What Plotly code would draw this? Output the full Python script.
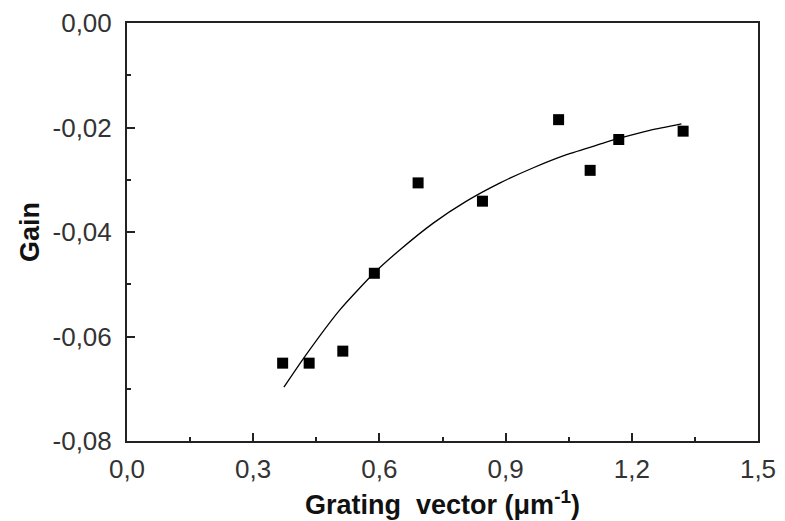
import plotly.graph_objects as go

# Measured data points
grating_vector = [0.370, 0.433, 0.513, 0.588, 0.692, 0.845, 1.026, 1.101, 1.169, 1.322]
gain = [-0.0651, -0.0651, -0.0628, -0.0479, -0.0306, -0.0341, -0.0185, -0.0282, -0.0223, -0.0207]

# Fit curve
fit_x = [0.373, 0.423, 0.506, 0.588, 0.649, 0.728, 0.807, 0.887, 0.966, 1.045, 1.124, 1.169, 1.245, 1.318]
fit_y = [-0.0697, -0.0638, -0.0549, -0.0478, -0.0434, -0.0383, -0.0341, -0.0306, -0.0277, -0.0252, -0.0232, -0.0221, -0.0205, -0.0193]

# Ticks
x_tickvals = [0.0, 0.3, 0.6, 0.9, 1.2, 1.5]
x_ticktext = ["0,0", "0,3", "0,6", "0,9", "1,2", "1,5"]
y_tickvals = [0.0, -0.02, -0.04, -0.06, -0.08]
y_ticktext = ["0,00", "-0,02", "-0,04", "-0,06", "-0,08"]

fig = go.Figure()
fig.add_trace(go.Scatter(x=fit_x, y=fit_y, mode="lines",
                         line=dict(color="black", width=1.3, shape="spline", smoothing=0.6),
                         showlegend=False, hoverinfo="skip"))
fig.add_trace(go.Scatter(x=grating_vector, y=gain, mode="markers",
                         marker=dict(symbol="square", size=11, color="black"),
                         showlegend=False))

font_family = "Liberation Sans, Arial, sans-serif"
# page body has an 8px margin, so the figure is 8px smaller than the window
fig.update_layout(
    width=777, height=513,
    margin=dict(l=119, r=27, t=15, b=80),
    paper_bgcolor="white", plot_bgcolor="white",
    font=dict(family=font_family, color="#222222", size=25),
)
axis_common = dict(showline=True, linecolor="#222222", linewidth=2, mirror=True,
                   showgrid=False, zeroline=False, ticks="inside", tickcolor="#222222",
                   ticklen=8, tickwidth=1.5, automargin=False,
                   tickfont=dict(family=font_family, size=26, color="#333333"))
fig.update_xaxes(range=[0, 1.5], tickvals=x_tickvals, ticktext=x_ticktext,
                 ticklabelstandoff=4,
                 title=dict(text="Grating  vector (μm<sup>-1</sup>)", standoff=12,
                            font=dict(family=font_family, size=27, color="#111111", weight="bold")),
                 **axis_common)
fig.update_xaxes(minor=dict(ticks="inside", ticklen=4, tickwidth=1.5, tickcolor="#222222",
                            tickvals=[0.15, 0.45, 0.75, 1.05, 1.35]))
fig.update_yaxes(range=[-0.08, 0], tickvals=y_tickvals, ticktext=y_ticktext,
                 ticklabelstandoff=8,
                 title=dict(text="Gain", standoff=5,
                            font=dict(family=font_family, size=27, color="#111111", weight="bold")),
                 **axis_common)
fig.update_yaxes(minor=dict(ticks="inside", ticklen=4, tickwidth=1.5, tickcolor="#222222",
                            tickvals=[-0.01, -0.03, -0.05, -0.07]))

fig.write_html("out.html")
